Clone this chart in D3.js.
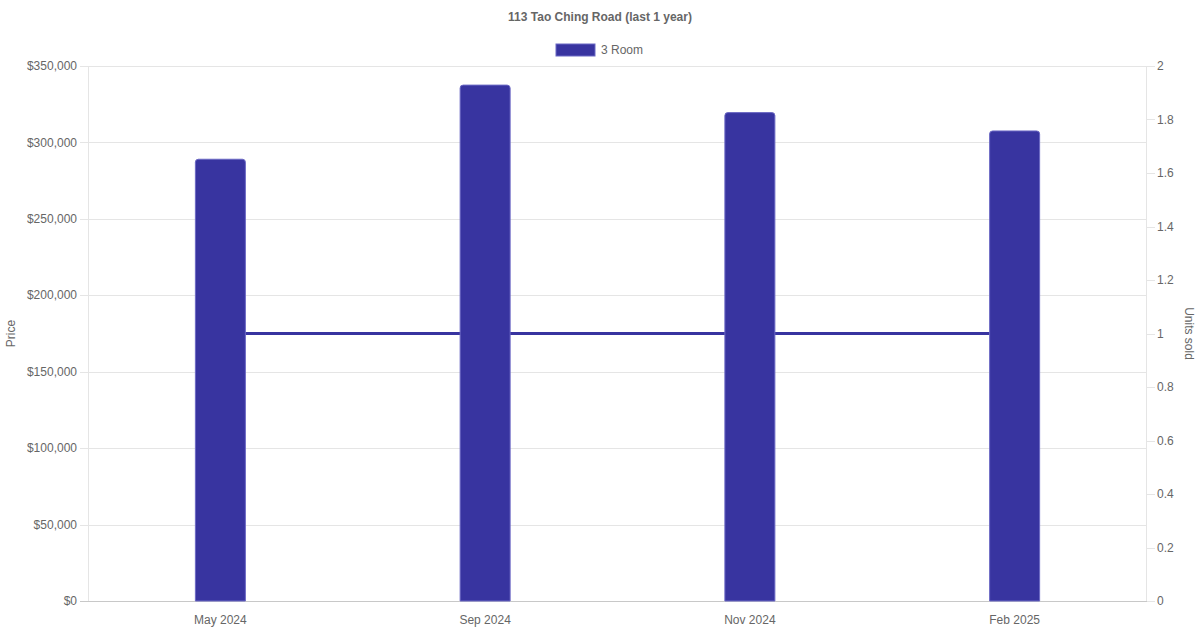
<!DOCTYPE html>
<html>
<head>
<meta charset="utf-8">
<script src="https://cdn.jsdelivr.net/npm/d3@7"></script>
<style>
  body { margin: 0; background: #fff; }
  text { font-family: "Liberation Sans", Arial, sans-serif; fill: #666; }
</style>
</head>
<body>
<div id="chart"></div>
<script>
// chart data
const months = ["May 2024", "Sep 2024", "Nov 2024", "Feb 2025"]
const prices = [289000, 337500, 319500, 307500]
const unitsSold = [1, 1, 1, 1]
const priceTicks = [0, 50000, 100000, 150000, 200000, 250000, 300000, 350000]
const unitTicks = [0, 0.2, 0.4, 0.6, 0.8, 1, 1.2, 1.4, 1.6, 1.8, 2]

const barColor = "#3834a0"

// set the dimensions and margins of the graph
const W = 1200, H = 630
const margin = {top: 66, right: 53, bottom: 29, left: 88},
    width = W - margin.left - margin.right,
    height = H - margin.top - margin.bottom

const svg = d3.select("#chart")
    .append("svg")
    .attr("width", W)
    .attr("height", H)

const g = svg.append("g")
    .attr("transform", `translate(${margin.left}, ${margin.top})`)

// scales
const x = d3.scaleBand()
    .range([0, width])
    .domain(months)
const y = d3.scaleLinear()
    .range([height, 0])
    .domain([0, 350000])
const y2 = d3.scaleLinear()
    .range([height, 0])
    .domain([0, 2])

// grid lines (left axis)
g.append("g")
    .selectAll("line")
    .data(priceTicks)
    .join("line")
    .attr("x1", -8)
    .attr("x2", width)
    .attr("y1", d => Math.round(y(d)) + 0.5)
    .attr("y2", d => Math.round(y(d)) + 0.5)
    .style("stroke", (d, i) => i == 0 ? "#c8c8c8" : "#e5e5e5")
    .style("stroke-width", 1)

// borders of the plot
g.append("line")
    .attr("x1", 0.5).attr("x2", 0.5)
    .attr("y1", 0).attr("y2", height)
    .style("stroke", "#e5e5e5")
g.append("line")
    .attr("x1", width - 0.5).attr("x2", width - 0.5)
    .attr("y1", 0).attr("y2", height)
    .style("stroke", "#e5e5e5")

// left tick labels
g.append("g")
    .selectAll("text")
    .data(priceTicks)
    .join("text")
    .attr("x", -11)
    .attr("y", d => y(d))
    .attr("dy", "0.35em")
    .attr("text-anchor", "end")
    .style("font-size", "12px")
    .text(d => "$" + d3.format(",")(d))

// right ticks + labels
const right = g.append("g")
    .attr("transform", `translate(${width}, 0)`)
right.selectAll("line")
    .data(unitTicks)
    .join("line")
    .attr("x1", 0)
    .attr("x2", 8)
    .attr("y1", d => Math.round(y2(d)) + 0.5)
    .attr("y2", d => Math.round(y2(d)) + 0.5)
    .style("stroke", "#e5e5e5")
right.selectAll("text")
    .data(unitTicks)
    .join("text")
    .attr("x", 10)
    .attr("y", d => y2(d))
    .attr("dy", "0.35em")
    .style("font-size", "12px")
    .text(d => d3.format("~g")(d))

// x tick labels
g.append("g")
    .selectAll("text")
    .data(months)
    .join("text")
    .attr("x", d => x(d) + x.bandwidth() / 2)
    .attr("y", height + 23)
    .attr("text-anchor", "middle")
    .style("font-size", "12px")
    .text(d => d)

// units sold line (drawn under the bars)
const lineData = months.map((m, i) => ({month: m, units: unitsSold[i]}))
g.append("path")
    .datum(lineData)
    .attr("fill", "none")
    .attr("stroke", barColor)
    .attr("stroke-width", 3)
    .attr("d", d3.line()
        .x(d => x(d.month) + x.bandwidth() / 2)
        .y(d => y2(d.units)))

// price bars
const barW = 50
const barData = months.map((m, i) => ({month: m, price: prices[i]}))
g.append("g")
    .selectAll("path")
    .data(barData)
    .join("path")
    .attr("d", d => {
        const x0 = x(d.month) + x.bandwidth() / 2 - barW / 2
        const y0 = y(d.price), y1 = y(0), r = 3
        return `M${x0},${y1} L${x0},${y0 + r} Q${x0},${y0} ${x0 + r},${y0} ` +
            `L${x0 + barW - r},${y0} Q${x0 + barW},${y0} ${x0 + barW},${y0 + r} L${x0 + barW},${y1} Z`
    })
    .style("fill", barColor)
    .style("stroke", "#6b68c4")
    .style("stroke-width", 1)

// axis titles
svg.append("text")
    .attr("transform", `translate(15, ${margin.top + height / 2}) rotate(-90)`)
    .attr("text-anchor", "middle")
    .style("font-size", "12px")
    .text("Price")
svg.append("text")
    .attr("transform", `translate(1185, ${margin.top + height / 2}) rotate(90)`)
    .attr("text-anchor", "middle")
    .style("font-size", "12px")
    .text("Units sold")

// title
svg.append("text")
    .attr("x", W / 2)
    .attr("y", 21)
    .attr("text-anchor", "middle")
    .style("font-size", "12px")
    .style("font-weight", "bold")
    .text("113 Tao Ching Road (last 1 year)")

// legend
const legend = svg.append("g")
    .attr("transform", "translate(556, 44)")
legend.append("rect")
    .attr("width", 39)
    .attr("height", 12)
    .style("fill", barColor)
    .style("stroke", "#6b68c4")
legend.append("text")
    .attr("x", 45)
    .attr("y", 6)
    .attr("dy", "0.35em")
    .style("font-size", "12px")
    .text("3 Room")
</script>
</body>
</html>
